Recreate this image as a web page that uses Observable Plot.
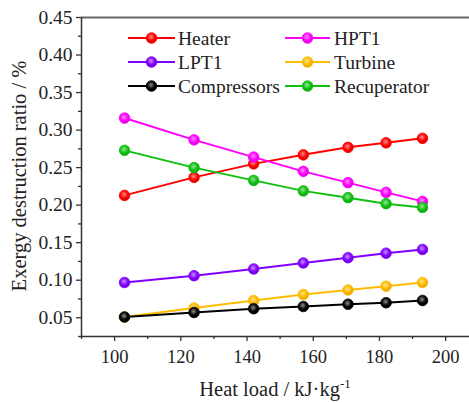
<!DOCTYPE html>
<html>
<head>
<meta charset="utf-8">
<script src="https://cdn.jsdelivr.net/npm/d3@7"></script>
<script src="https://cdn.jsdelivr.net/npm/@observablehq/plot@0.6"></script>
<style>
  html, body { margin: 0; padding: 0; background: #fff; }
  #chart { position: relative; width: 469px; height: 403px; }
</style>
</head>
<body>
<div id="chart"></div>
<script>
// ---- data ----
const heatLoad = [103, 124, 142, 157, 170.5, 182, 193];
const seriesNames = ["Heater", "HPT1", "LPT1", "Turbine", "Compressors", "Recuperator"];
const heater      = [0.213, 0.237, 0.255, 0.267, 0.277, 0.283, 0.289];
const hpt1        = [0.316, 0.287, 0.264, 0.245, 0.230, 0.217, 0.205];
const lpt1        = [0.097, 0.106, 0.115, 0.123, 0.130, 0.136, 0.141];
const turbine     = [0.051, 0.063, 0.073, 0.081, 0.087, 0.092, 0.097];
const compressors = [0.051, 0.057, 0.062, 0.065, 0.068, 0.070, 0.073];
const recuperator = [0.273, 0.250, 0.233, 0.219, 0.210, 0.202, 0.197];
const seriesColors = ["#ff0000", "#ff00ff", "#8000ff", "#ffbb00", "#000000", "#10c010"];
const xTicks = [100, 120, 140, 160, 180, 200];
const xMinorTicks = [90, 110, 130, 150, 170, 190];
const yTicks = [0.05, 0.10, 0.15, 0.20, 0.25, 0.30, 0.35, 0.40, 0.45];
const yMinorTicks = [0.025, 0.075, 0.125, 0.175, 0.225, 0.275, 0.325, 0.375, 0.425];
const xDomain = [90, 207.2];
const yDomain = [0.025, 0.45];

const FONT = "'Liberation Serif', 'Times New Roman', serif";
const allValues = [heater, hpt1, lpt1, turbine, compressors, recuperator];
const series = seriesNames.map((name, i) => ({
  name, color: seriesColors[i],
  data: heatLoad.map((x, j) => ({x, y: allValues[i][j]}))
}));

const axisColor = "#333";
const marks = [
  Plot.ruleY([yDomain[1]], {stroke: "#666", strokeWidth: 2}),
  Plot.ruleX([xDomain[0]], {stroke: axisColor, strokeWidth: 1.5}),
  Plot.ruleY([yDomain[0]], {stroke: axisColor, strokeWidth: 1.5}),
  Plot.axisY({ticks: yTicks, tickSize: 5, tickPadding: 4, label: null, tickFormat: d3.format(".2f"), stroke: axisColor, strokeWidth: 1.3, fontSize: 19.5}),
  Plot.axisY({ticks: yMinorTicks, tickSize: 3, label: null, tickFormat: () => "", stroke: axisColor, strokeWidth: 1.3}),
  Plot.axisX({ticks: xTicks, tickSize: 5, tickPadding: 8, label: null, tickFormat: d => String(d), stroke: axisColor, strokeWidth: 1.3, fontSize: 18.5}),
  Plot.axisX({ticks: xMinorTicks, tickSize: 3, label: null, tickFormat: () => "", stroke: axisColor, strokeWidth: 1.3})
];
series.forEach((s) => {
  marks.push(Plot.line(s.data, {x: "x", y: "y", stroke: s.color, strokeWidth: 2}));
});
series.forEach((s, i) => {
  marks.push(Plot.dot(s.data, {x: "x", y: "y", r: 5.3, fill: `url(#grad${i})`, stroke: s.color, strokeWidth: 0.8}));
});

const chart = Plot.plot({
  width: 469, height: 403,
  marginLeft: 81, marginRight: 0, marginTop: 17, marginBottom: 67,
  style: {fontSize: "16px", color: "#222", background: "#fff", overflow: "visible"},
  x: {domain: xDomain},
  y: {domain: yDomain},
  marks
});
document.getElementById("chart").appendChild(chart);

const svg = d3.select(chart);
svg.attr("font-family", FONT).style("font-family", FONT);
const defs = svg.insert("defs", ":first-child");
series.forEach((s, i) => {
  const g = defs.append("radialGradient").attr("id", `grad${i}`)
    .attr("cx", "45%").attr("cy", "40%").attr("r", "60%");
  g.append("stop").attr("offset", "0%").attr("stop-color", d3.interpolateRgb(s.color, "#fff")(0.55));
  g.append("stop").attr("offset", "60%").attr("stop-color", s.color);
  g.append("stop").attr("offset", "100%").attr("stop-color", d3.interpolateRgb(s.color, "#000")(0.15));
});

// axis titles
const xt = svg.append("text").attr("x", 275).attr("y", 396).attr("text-anchor", "middle")
  .attr("fill", "#222").attr("font-size", 20.5);
xt.append("tspan").text("Heat load / kJ·kg");
xt.append("tspan").attr("dy", -8).attr("font-size", 13).text("-1");

svg.append("text").attr("transform", "translate(25.5,176) rotate(-90)").attr("text-anchor", "middle")
  .attr("fill", "#222").attr("font-size", 20.5).text("Exergy destruction ratio / %");

// legend (two columns, three rows)
const legendRows = [38, 62, 86];
const legendCols = [{x0: 128, x1: 175, tx: 178}, {x0: 285, x1: 330, tx: 334}];
const lg = svg.append("g").attr("text-anchor", "start");
series.forEach((s, i) => {
  const col = legendCols[i % 2], y = legendRows[Math.floor(i / 2)];
  lg.append("line").attr("x1", col.x0).attr("x2", col.x1).attr("y1", y).attr("y2", y)
    .attr("stroke", s.color).attr("stroke-width", 2);
  lg.append("circle").attr("cx", (col.x0 + col.x1) / 2).attr("cy", y).attr("r", 5.3)
    .attr("fill", `url(#grad${i})`).attr("stroke", s.color).attr("stroke-width", 0.8);
  lg.append("text").attr("x", col.tx).attr("y", y).attr("dy", "0.35em").attr("fill", "#222")
    .attr("text-anchor", "start").attr("font-size", 19.5).text(s.name);
});
svg.selectAll("text").attr("font-family", FONT).style("font-family", FONT);
</script>
</body>
</html>
